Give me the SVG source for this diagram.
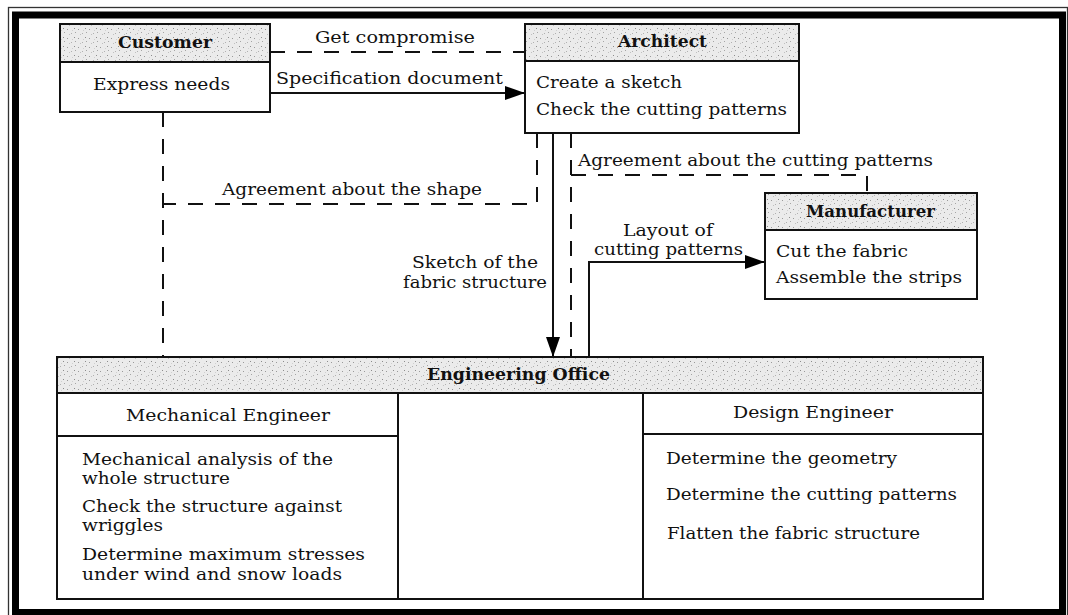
<svg xmlns="http://www.w3.org/2000/svg" width="1068" height="615" viewBox="0 0 1068 615">
<defs>
<pattern id="speck" width="11" height="9" patternUnits="userSpaceOnUse">
<rect width="11" height="9" fill="#ebebeb"/>
<rect x="1" y="2" width="1" height="1" fill="#9a9a9a"/>
<rect x="5" y="6" width="1" height="1" fill="#b0b0b0"/>
<rect x="8" y="1" width="1" height="1" fill="#8c8c8c"/>
<rect x="3" y="7" width="1" height="1" fill="#c0c0c0"/>
<rect x="9" y="5" width="1" height="1" fill="#a5a5a5"/>
<rect x="6" y="3" width="1" height="1" fill="#d0d0d0"/>
</pattern>
<marker id="ah" viewBox="0 0 20 14" refX="20" refY="7" markerWidth="20" markerHeight="14" markerUnits="userSpaceOnUse" orient="auto">
<path d="M0,0 L20,7 L0,14 Z" fill="#000"/>
</marker>
<style>
.t{font-family:"DejaVu Serif","Liberation Serif",serif;font-size:17px;fill:#111}
.b{font-weight:bold}
.box{fill:#fff;stroke:#111;stroke-width:2}
.hd{fill:url(#speck);stroke:#111;stroke-width:2}
.ln{fill:none;stroke:#111;stroke-width:2}
.ds{fill:none;stroke:#111;stroke-width:2;stroke-dasharray:15 12}
</style>
</defs>
<rect width="1068" height="615" fill="#fff"/>
<g id="frame">
<rect x="8.5" y="7.5" width="1059" height="620" fill="none" stroke="#333" stroke-width="1.3"/>
<rect x="15.5" y="15" width="1047" height="597.5" fill="none" stroke="#000" stroke-width="7"/>
</g>
<g id="connectors">
<path class="ds" d="M270,52 H525"/>
<path class="ln" d="M270,93 H525" marker-end="url(#ah)"/>
<path class="ds" d="M163,112 V357"/>
<path class="ds" d="M537,133 V204 H163"/>
<path class="ln" d="M553,133 V357" marker-end="url(#ah)"/>
<path class="ds" d="M571,133 V357"/>
<path class="ds" d="M571,175 H867 V193"/>
<path class="ln" d="M589,357 V262 H765" marker-end="url(#ah)"/>
<path class="ln" d="M643,468 H398" marker-end="url(#ah)"/>
<path class="ln" d="M398,559 H643" marker-end="url(#ah)"/>
<text class="t" x="315" y="43" textLength="160" lengthAdjust="spacingAndGlyphs">Get compromise</text>
<text class="t" x="276" y="84" textLength="227" lengthAdjust="spacingAndGlyphs">Specification document</text>
<text class="t" x="578" y="166" textLength="355" lengthAdjust="spacingAndGlyphs">Agreement about the cutting patterns</text>
<text class="t" x="222" y="195" textLength="260" lengthAdjust="spacingAndGlyphs">Agreement about the shape</text>
<text class="t" x="412" y="268" textLength="126" lengthAdjust="spacingAndGlyphs">Sketch of the</text>
<text class="t" x="403" y="288" textLength="144" lengthAdjust="spacingAndGlyphs">fabric structure</text>
<text class="t" x="623" y="236" textLength="90" lengthAdjust="spacingAndGlyphs">Layout of</text>
<text class="t" x="594" y="255" textLength="149" lengthAdjust="spacingAndGlyphs">cutting patterns</text>
<text class="t" x="457" y="440" textLength="125" lengthAdjust="spacingAndGlyphs">3D geometry</text>
<text class="t" x="443" y="460" textLength="154" lengthAdjust="spacingAndGlyphs">mechanical data</text>
<text class="t" x="423" y="509" textLength="195" lengthAdjust="spacingAndGlyphs">Acknowledgment or</text>
<text class="t" x="409" y="528" textLength="222" lengthAdjust="spacingAndGlyphs">Requests for geometric</text>
<text class="t" x="457" y="547" textLength="130" lengthAdjust="spacingAndGlyphs">modifications</text>
</g>
<g id="customer">
<rect class="box" x="60" y="24" width="210" height="88"/>
<rect class="hd" x="60" y="24" width="210" height="38"/>
<text class="t b" x="118" y="48" textLength="94" lengthAdjust="spacingAndGlyphs">Customer</text>
<text class="t" x="93" y="90" textLength="137" lengthAdjust="spacingAndGlyphs">Express needs</text>
</g>
<g id="architect">
<rect class="box" x="525" y="24" width="274" height="109"/>
<rect class="hd" x="525" y="24" width="274" height="37"/>
<text class="t b" x="618" y="47" textLength="89" lengthAdjust="spacingAndGlyphs">Architect</text>
<text class="t" x="536" y="88" textLength="146" lengthAdjust="spacingAndGlyphs">Create a sketch</text>
<text class="t" x="536" y="115" textLength="251" lengthAdjust="spacingAndGlyphs">Check the cutting patterns</text>
</g>
<g id="manufacturer">
<rect class="box" x="765" y="193" width="212" height="106"/>
<rect class="hd" x="765" y="193" width="212" height="37"/>
<text class="t b" x="806" y="217" textLength="129" lengthAdjust="spacingAndGlyphs">Manufacturer</text>
<text class="t" x="776" y="257" textLength="132" lengthAdjust="spacingAndGlyphs">Cut the fabric</text>
<text class="t" x="776" y="283" textLength="186" lengthAdjust="spacingAndGlyphs">Assemble the strips</text>
</g>
<g id="engineering-office">
<rect class="box" x="57" y="357" width="926" height="242"/>
<rect class="hd" x="57" y="357" width="926" height="36"/>
<text class="t b" x="427" y="380" textLength="183" lengthAdjust="spacingAndGlyphs">Engineering Office</text>
</g>
<g id="mechanical-engineer">
<path class="ln" d="M398,393 V599 M57,436 H398"/>
<text class="t" x="126" y="421" textLength="204" lengthAdjust="spacingAndGlyphs">Mechanical Engineer</text>
<text class="t" x="82" y="465" textLength="251" lengthAdjust="spacingAndGlyphs">Mechanical analysis of the</text>
<text class="t" x="82" y="484" textLength="148" lengthAdjust="spacingAndGlyphs">whole structure</text>
<text class="t" x="82" y="512" textLength="260" lengthAdjust="spacingAndGlyphs">Check the structure against</text>
<text class="t" x="82" y="531" textLength="81" lengthAdjust="spacingAndGlyphs">wriggles</text>
<text class="t" x="82" y="560" textLength="283" lengthAdjust="spacingAndGlyphs">Determine maximum stresses</text>
<text class="t" x="82" y="580" textLength="260" lengthAdjust="spacingAndGlyphs">under wind and snow loads</text>
</g>
<g id="design-engineer">
<path class="ln" d="M643,393 V599 M643,434 H983"/>
<text class="t" x="733" y="418" textLength="160" lengthAdjust="spacingAndGlyphs">Design Engineer</text>
<text class="t" x="666" y="464" textLength="231" lengthAdjust="spacingAndGlyphs">Determine the geometry</text>
<text class="t" x="666" y="500" textLength="291" lengthAdjust="spacingAndGlyphs">Determine the cutting patterns</text>
<text class="t" x="667" y="539" textLength="253" lengthAdjust="spacingAndGlyphs">Flatten the fabric structure</text>
</g>
</svg>
